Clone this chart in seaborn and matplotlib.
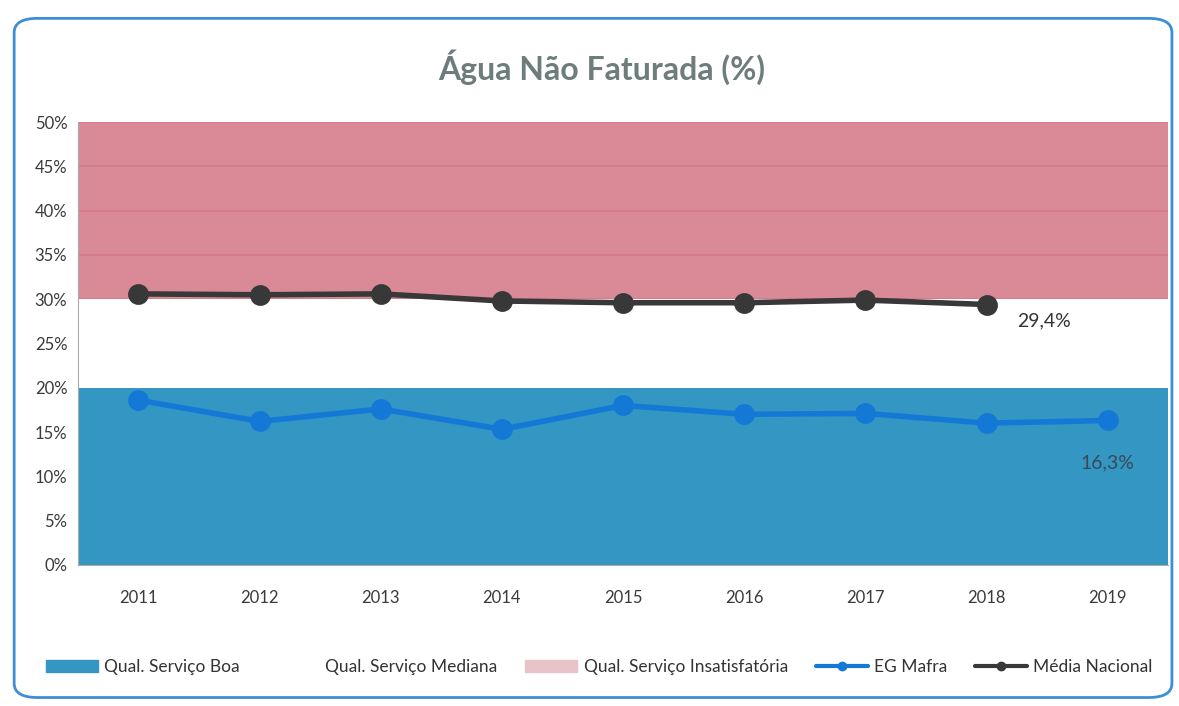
import numpy as np
import matplotlib.pyplot as plt
import seaborn as sns
from matplotlib.patches import Patch, FancyBboxPatch
from matplotlib.lines import Line2D
from matplotlib.ticker import PercentFormatter

years = ["2011", "2012", "2013", "2014", "2015", "2016", "2017", "2018", "2019"]
eg_mafra = [18.6, 16.2, 17.6, 15.3, 18.0, 17.0, 17.1, 16.0, 16.3]
media_nacional = [30.6, 30.5, 30.6, 29.8, 29.6, 29.6, 29.9, 29.4, np.nan]
# upper limits of the service quality bands (%)
band_boa = 20
band_mediana = 30
band_insatisf = 50

sns.set_style("white")
plt.rcParams['font.family'] = ["Lato", "DejaVu Sans"]

fig = plt.figure(figsize=(11.79, 7.06), dpi=100)
ax = fig.add_axes([0.066, 0.2, 0.925, 0.627])

red = "#d67d8b"
blue = "#3496c2"
line_blue = "#1479d6"
dark = "#383838"

ax.set_axisbelow(True)
ax.yaxis.grid(True, color="#b85a66", linewidth=1.2)

# stacked bands, drawn from the top one down
sns.barplot(x=years, y=[band_insatisf] * len(years), color=red, width=1.0,
            saturation=1, linewidth=0, alpha=0.9, ax=ax)
sns.barplot(x=years, y=[band_mediana] * len(years), color="white", width=1.0,
            saturation=1, linewidth=0, ax=ax)
sns.barplot(x=years, y=[band_boa] * len(years), color=blue, width=1.0,
            saturation=1, linewidth=0, ax=ax)

sns.pointplot(x=years, y=media_nacional, color=dark, markers="o",
              markersize=12, linewidth=4, ax=ax)
sns.pointplot(x=years, y=eg_mafra, color=line_blue, markers="o",
              markersize=12, linewidth=4, ax=ax)

ax.text(7.25, 27.5, "29,4%", fontsize=14, color="#333333", va="center")
ax.text(8.0, 11.5, "16,3%", fontsize=14, color="#3a4a55", ha="center", va="center")

ax.set_ylim(0, 50)
ax.set_xlim(-0.5, 8.5)
ax.set_yticks(np.arange(0, 51, 5))
ax.yaxis.set_major_formatter(PercentFormatter(decimals=0))
ax.tick_params(axis="both", labelsize=12, colors="#3a3a3a", length=4)
ax.tick_params(axis="x", pad=14)
ax.set_xlabel("")
ax.set_ylabel("")
for s in ["top", "right"]:
    ax.spines[s].set_visible(False)
for s in ["left", "bottom"]:
    ax.spines[s].set_color("#aaaaaa")

fig.suptitle("Água Não Faturada (%)", x=0.51, y=0.93, fontsize=23,
             fontweight="bold", color="#6e7c7c")

handles = [
    Patch(color=blue, label="Qual. Serviço Boa"),
    Patch(color="white", label="Qual. Serviço Mediana"),
    Patch(color="#e8c3c9", label="Qual. Serviço Insatisfatória"),
    Line2D([], [], color=line_blue, marker="o", markersize=6, linewidth=3, label="EG Mafra"),
    Line2D([], [], color=dark, marker="o", markersize=6, linewidth=3, label="Média Nacional"),
]
fig.legend(handles=handles, loc="center", bbox_to_anchor=(0.508, 0.055), ncol=5,
           frameon=False, fontsize=12.5, handlelength=3.0, columnspacing=1.6,
           handletextpad=0.35, labelcolor="#333333")

fig.patches.append(FancyBboxPatch((0.012, 0.012), 0.982, 0.962,
                                  boxstyle="round,pad=0,rounding_size=0.02",
                                  transform=fig.transFigure, fill=False,
                                  edgecolor="#3d8ed4", linewidth=2))

plt.savefig("out.png", dpi=100)
plt.close()
